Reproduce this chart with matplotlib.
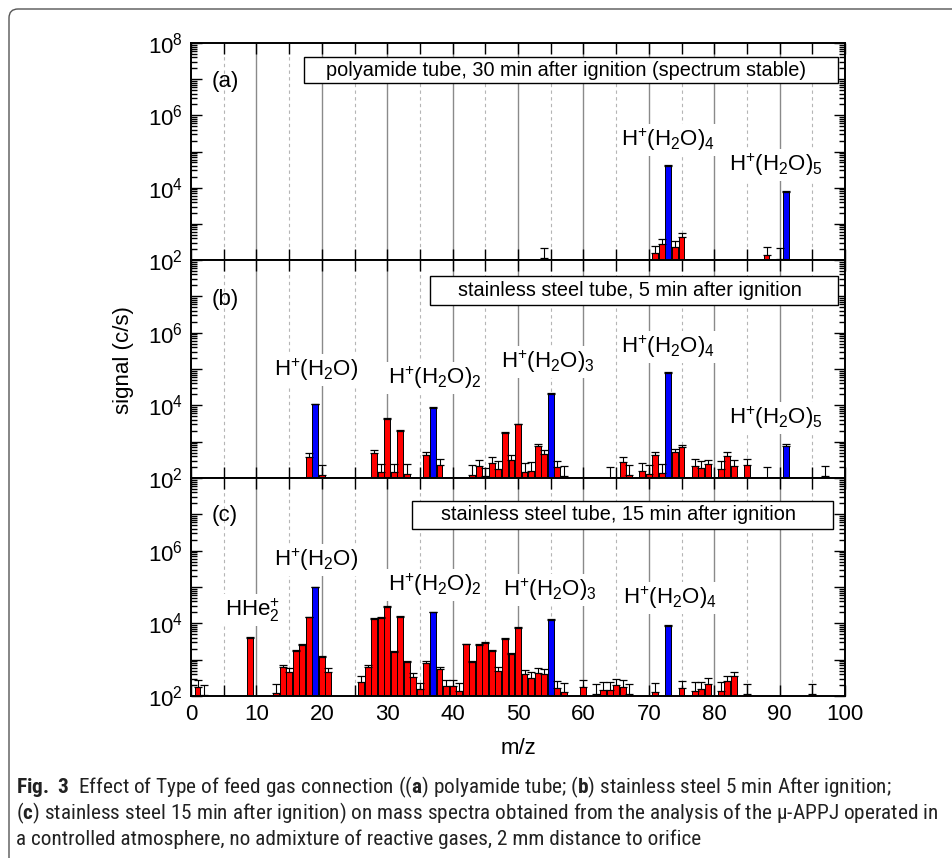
import numpy as np
import matplotlib
matplotlib.use('Agg')
import matplotlib.pyplot as plt
from matplotlib import font_manager
from matplotlib.ticker import LogLocator, FuncFormatter, MultipleLocator, NullFormatter
from matplotlib.patches import Rectangle, FancyBboxPatch
from matplotlib.transforms import IdentityTransform

# ---------------- data ----------------
cluster_mz = [19, 37, 55, 73, 91]

mz_a = [54, 71, 72, 73, 74, 75, 88, 90, 91]
sig_a = [116, 153, 270, 41000, 234, 443, 138, 108, 7800]
up_a = [219, 245, 373, 42500, 336, 548, 234, 210, 8150]

mz_b = [18, 19, 20, 28, 29, 30, 31, 32, 33, 36, 37, 38, 43, 44, 45, 46, 47, 48, 49, 50,
        51, 52, 53, 54, 55, 56, 57, 64, 66, 67, 69, 70, 71, 72, 73, 74, 75, 77, 78, 79,
        81, 82, 83, 85, 88, 91, 97]
sig_b = [380, 10700, 124, 492, 143, 4150, 143, 2000, 132, 424, 8500, 234, 124, 210, 112, 260,
         178, 1770, 322, 3000, 147, 160, 755, 460, 20400, 200, 112, 101, 277, 124, 160, 132,
         424, 137, 78000, 525, 720, 219, 190, 250, 178, 400, 219, 234, 101, 755, 112]
up_b = [493, 11100, 224, 597, 250, 4350, 250, 2100, 239, 525, 8850, 336, 224, 309, 190, 373,
        290, 1850, 424, 3150, 260, 272, 875, 573, 21200, 296, 210, 200, 373, 224, 266, 224,
        525, 244, 81000, 610, 820, 336, 302, 322, 290, 514, 322, 336, 200, 870, 219]

mz_c = [1, 2, 9, 13, 14, 15, 16, 17, 18, 19, 20, 21, 26, 27, 28, 29, 30, 31, 32, 33, 34, 35,
        36, 37, 38, 39, 40, 41, 42, 43, 44, 45, 46, 47, 48, 49, 50, 51, 52, 53, 54, 55, 56, 57,
        60, 62, 63, 64, 65, 66, 67, 71, 73, 75, 77, 78, 79, 81, 82, 83, 85, 95]
sig_c = [174, 107, 4070, 118, 617, 450, 1740, 2550, 14500, 97000, 1170, 470, 250, 645, 13300,
         13900, 28500, 1600, 15000, 850, 327, 156, 795, 20000, 545, 189, 189, 137, 2650, 885,
         2560, 2960, 1780, 490, 3730, 1440, 7620, 404, 320, 440, 404, 12500, 162, 126, 174, 113,
         146, 146, 200, 174, 113, 126, 8500, 162, 137, 156, 210, 137, 260, 355, 113, 113]
up_c = [276, 201, 4250, 214, 715, 580, 1830, 2680, 15200, 100000, 1240, 604, 356, 715, 14000,
        14600, 29800, 1680, 15700, 910, 440, 233, 940, 20900, 644, 276, 276, 223, 2780, 940,
        2690, 3100, 1870, 617, 3900, 1510, 7950, 520, 469, 580, 543, 13100, 259, 223, 276, 210,
        238, 238, 294, 276, 210, 223, 8850, 265, 238, 248, 307, 238, 363, 469, 214, 214]

titles = ["polyamide tube, 30 min after ignition (spectrum stable)",
          "stainless steel tube, 5 min after ignition",
          "stainless steel tube, 15 min after ignition"]
panel_tags = ["(a)", "(b)", "(c)"]

H1 = r'H$^{+}$(H$_{2}$O)'
H2 = r'H$^{+}$(H$_{2}$O)$_{2}$'
H3 = r'H$^{+}$(H$_{2}$O)$_{3}$'
H4 = r'H$^{+}$(H$_{2}$O)$_{4}$'
H5 = r'H$^{+}$(H$_{2}$O)$_{5}$'
HHE = r'HHe$_{2}^{+}$'

caption_lines = [
    r'$\mathbf{Fig.\ 3}$  Effect of Type of feed gas connection (($\mathbf{a}$) polyamide tube; ($\mathbf{b}$) stainless steel 5 min After ignition;',
    r'($\mathbf{c}$) stainless steel 15 min after ignition) on mass spectra obtained from the analysis of the μ-APPJ operated in',
    r'a controlled atmosphere, no admixture of reactive gases, 2 mm distance to orifice',
]

# ---------------- style ----------------
names = {f.name for f in font_manager.fontManager.ttflist}
cap_font = 'Liberation Sans'
for cand in ['Liberation Sans Narrow', 'Roboto Condensed', 'Open Sans Condensed',
             'Noto Sans Condensed', 'Roboto']:
    if cand in names:
        cap_font = cand
        break

plt.rcParams['font.family'] = ['Liberation Sans', 'DejaVu Sans']
plt.rcParams['mathtext.fontset'] = 'custom'
plt.rcParams['mathtext.rm'] = 'Liberation Sans'
plt.rcParams['mathtext.it'] = 'Liberation Sans:italic'
plt.rcParams['mathtext.bf'] = cap_font + ':bold'

W, H = 952, 858
fig = plt.figure(figsize=(W / 100, H / 100), dpi=100)

# outer frame (left + top, rounded corner)
frame = FancyBboxPatch((9, -40), 1100, (H - 9) + 40,
                       boxstyle="round,pad=0,rounding_size=9",
                       transform=IdentityTransform(), fill=False,
                       edgecolor='#555555', linewidth=1.0)
fig.patches.append(frame)

L, R = 191, 845
tops = [43, 260, 478]
bots = [260, 478, 696]

panels = [(mz_a, sig_a, up_a), (mz_b, sig_b, up_b), (mz_c, sig_c, up_c)]

title_box = [  # (x0, x1, ytop, ybot, text_left) in pixels
    (304, 838, 57, 83, 326),
    (430, 838, 276, 305, 458),
    (412, 833, 501, 529, 441),
]
tag_y = [82, 300, 515]

labels = [
    [(H4, 668, 140), (H5, 776, 165)],
    [(H1, 316, 370), (H2, 435, 378), (H3, 548, 362), (H4, 668, 347), (H5, 776, 418)],
    [(HHE, 252, 610), (H1, 316, 560), (H2, 435, 585), (H3, 550, 590), (H4, 670, 598)],
]

title_texts = []
axes = []
for i, (mz, sig, up) in enumerate(panels):
    ax = fig.add_axes([L / W, 1 - bots[i] / H, (R - L) / W, (bots[i] - tops[i]) / H])
    axes.append(ax)
    ax.set_yscale('log')
    ax.set_xlim(0, 100)
    ax.set_ylim(1e2, 1e8)

    # grid lines
    for g in range(5, 100, 5):
        if g % 10 == 0:
            ax.axvline(g, color='#8a8a8a', lw=1.0, zorder=0)
        else:
            ax.axvline(g, color='#b5b5b5', lw=0.8, ls=(0, (3, 3)), zorder=0)

    mz = np.array(mz)
    sig = np.array(sig, dtype=float)
    up = np.array(up, dtype=float)
    colors = ['#0000ff' if m in cluster_mz else '#ff0000' for m in mz]
    ax.bar(mz, sig - 100, bottom=100, width=0.9, color=colors, edgecolor='black',
           linewidth=0.7, zorder=2)
    ax.errorbar(mz, sig, yerr=[np.zeros_like(sig), up - sig], fmt='none', ecolor='black',
                elinewidth=0.8, capsize=3, capthick=0.9, zorder=3)

    # ticks
    ax.xaxis.set_major_locator(MultipleLocator(10))
    ax.xaxis.set_minor_locator(MultipleLocator(5))
    ax.yaxis.set_major_locator(LogLocator(base=10, numticks=20))
    ax.yaxis.set_minor_locator(LogLocator(base=10, subs=np.arange(2, 10), numticks=20))
    ax.yaxis.set_minor_formatter(NullFormatter())
    maxexp = 8 if i == 0 else 6

    def fmt(v, pos, maxexp=maxexp):
        e = int(round(np.log10(v)))
        if e % 2 == 0 and e <= maxexp:
            return r'$\mathregular{10^{%d}}$' % e
        return ''
    ax.yaxis.set_major_formatter(FuncFormatter(fmt))
    ax.tick_params(which='both', direction='in', top=True, right=True, width=1.0)
    ax.tick_params(axis='x', which='both', length=8)
    ax.tick_params(axis='y', which='major', length=8)
    ax.tick_params(axis='y', which='minor', length=4)
    ax.tick_params(axis='both', which='major', labelsize=16, pad=6)
    if i < 2:
        ax.tick_params(axis='x', labelbottom=False)
    for sp in ax.spines.values():
        sp.set_linewidth(1.4)

    # title box
    x0, x1, yt, yb, tl = title_box[i]
    hpx = bots[i] - tops[i]
    rect = Rectangle(((x0 - L) / (R - L), (bots[i] - yb) / hpx),
                     (x1 - x0) / (R - L), (yb - yt) / hpx,
                     transform=ax.transAxes, facecolor='white', edgecolor='black',
                     linewidth=1.0, zorder=5)
    ax.add_patch(rect)
    t = ax.text((tl - L) / (R - L), (bots[i] - (yt + yb) / 2) / hpx, titles[i],
                transform=ax.transAxes, ha='left', va='center', fontsize=13.5, zorder=6)
    title_texts.append(t)

    ax.text((212 - L) / (R - L), (bots[i] - tag_y[i]) / hpx, panel_tags[i],
            transform=ax.transAxes, ha='left', va='center', fontsize=16, zorder=6)

    for txt, px, py in labels[i]:
        ax.text((px - L) / (R - L), (bots[i] - py) / hpx, txt, transform=ax.transAxes,
                ha='center', va='center', fontsize=16, zorder=4,
                bbox=dict(facecolor='white', edgecolor='none', pad=2))

fig.text(123 / W, 1 - 360 / H, 'signal (c/s)', rotation=90, ha='center', va='center',
         fontsize=16)
fig.text(518 / W, 1 - 748 / H, 'm/z', ha='center', va='center', fontsize=16)

cap_objs = []
for k, line in enumerate(caption_lines):
    cap_objs.append(fig.text(16 / W, 1 - (793 + 26 * k) / H, line, ha='left',
                             va='baseline', fontsize=14, family=cap_font, color='#222222'))

# fit caption width: second line spans ~16..943 px
fig.canvas.draw()
r = fig.canvas.get_renderer()
w2 = cap_objs[1].get_window_extent(r).width
scale = min(927.0 / w2, 1.25)
for c in cap_objs:
    c.set_fontsize(14 * scale)
# fit first title width (~477 px)
wt = title_texts[0].get_window_extent(r).width
ts = 477.0 / wt
for t in title_texts:
    t.set_fontsize(13.5 * ts)

fig.savefig('out.png', dpi=100)
